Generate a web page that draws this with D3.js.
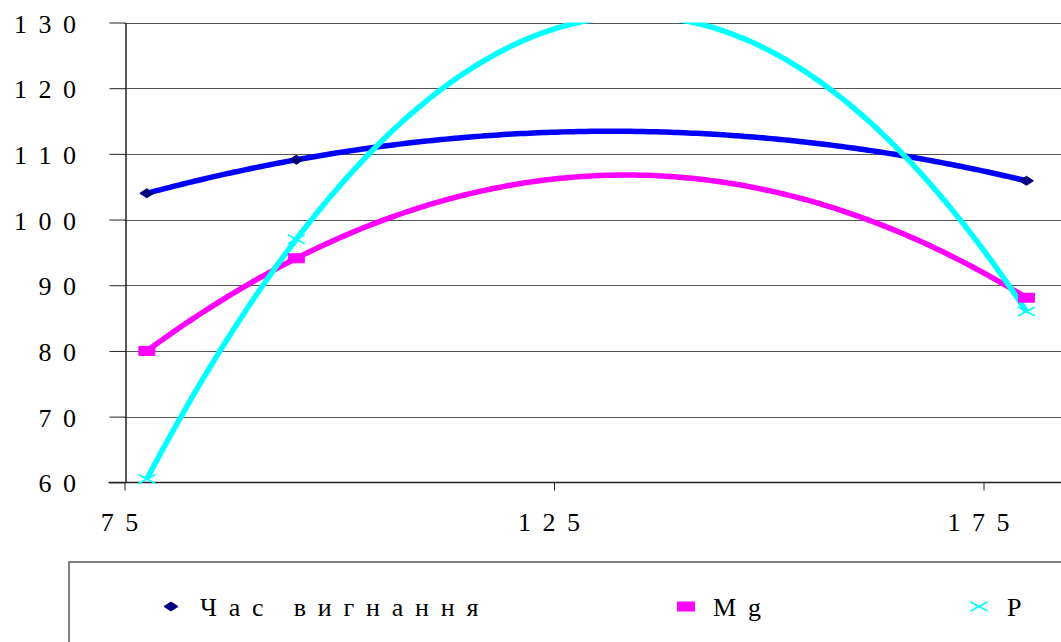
<!DOCTYPE html>
<html>
<head>
<meta charset="utf-8">
<script src="https://cdn.jsdelivr.net/npm/d3@7"></script>
<style>
  html, body { margin: 0; padding: 0; background: #fff; overflow: hidden; }
  svg { display: block; }
  text { font-family: "Liberation Serif", "Times New Roman", serif; font-size: 26px; fill: #000; }
</style>
</head>
<body>
<script>
// ---- data ----
const seriesNames = ["Час вигнання", "Mg", "P"];
const xValues = [77.6, 95, 180];
const chasVygnannia = [104, 109.1, 105.9];
const mgValues = [80, 94.1, 88.1];
const pValues = [60.5, 97, 86];
const yTicks = [60, 70, 80, 90, 100, 110, 120, 130];
const xTicks = [75, 125, 175];

const W = 1061, H = 642;
const svg = d3.select("body").append("svg").attr("width", W).attr("height", H);

const x = d3.scaleLinear().domain([75, 185]).range([124.5, 124.5 + 110 * 8.59]);
const y = d3.scaleLinear().domain([60, 130]).range([482.3, 22.5]);

const spaced = d => String(d).split("").join(" ");

// clip for plot area
svg.append("defs").append("clipPath").attr("id", "plot")
  .append("rect").attr("x", x(75)).attr("y", y(130)).attr("width", W - x(75)).attr("height", y(60) - y(130));

// gridlines
svg.append("g").selectAll("line").data(yTicks.filter(d => d > 60)).join("line")
  .attr("x1", x(75)).attr("x2", W)
  .attr("y1", d => Math.round(y(d)) + 0.5).attr("y2", d => Math.round(y(d)) + 0.5)
  .attr("stroke", "#555").attr("stroke-width", 1);

// y axis
const yAxis = d3.axisLeft(y).tickValues(yTicks).tickSizeInner(16).tickSizeOuter(0)
  .tickPadding(33.5).tickFormat(spaced);
const gy = svg.append("g").attr("transform", `translate(${Math.round(x(75)) + 0.5},0)`).call(yAxis);
gy.select(".domain").attr("stroke", "#222").attr("stroke-width", 1.5);
gy.selectAll(".tick line").attr("stroke", "#222");
gy.selectAll(".tick text").attr("dy", "0.37em").style("word-spacing", "5px").style("white-space", "pre");

// x axis
const xAxis = d3.axisBottom(x).tickValues(xTicks).tickSizeInner(8).tickSizeOuter(0)
  .tickPadding(22).tickFormat(spaced);
const gx = svg.append("g").attr("transform", `translate(0,${Math.round(y(60)) + 0.5})`).call(xAxis);
gx.select(".domain").attr("stroke", "#222").attr("stroke-width", 1.5).attr("d", `M${x(75) - 16},0H${W}`);
gx.selectAll(".tick line").attr("stroke", "#222");
gx.selectAll(".tick text").attr("dx", -5.5).style("word-spacing", "5px").style("white-space", "pre");

// polynomial (order 2) trendline by least squares
function quadFit(xs, ys) {
  const n = xs.length;
  let S = [0, 0, 0, 0, 0], T = [0, 0, 0];
  for (let i = 0; i < n; i++) {
    for (let k = 0; k < 5; k++) S[k] += Math.pow(xs[i], k);
    for (let k = 0; k < 3; k++) T[k] += ys[i] * Math.pow(xs[i], k);
  }
  const M = [[S[0], S[1], S[2], T[0]], [S[1], S[2], S[3], T[1]], [S[2], S[3], S[4], T[2]]];
  for (let c = 0; c < 3; c++) {
    let p = c;
    for (let r = c + 1; r < 3; r++) if (Math.abs(M[r][c]) > Math.abs(M[p][c])) p = r;
    [M[c], M[p]] = [M[p], M[c]];
    for (let r = 0; r < 3; r++) if (r !== c) {
      const f = M[r][c] / M[c][c];
      for (let k = c; k < 4; k++) M[r][k] -= f * M[c][k];
    }
  }
  const coef = [M[0][3] / M[0][0], M[1][3] / M[1][1], M[2][3] / M[2][2]];
  return xv => coef[0] + coef[1] * xv + coef[2] * xv * xv;
}

const series = [
  { name: seriesNames[0], values: chasVygnannia, line: "#0000FF", marker: "#000080", shape: "diamond" },
  { name: seriesNames[1], values: mgValues, line: "#FF00FF", marker: "#FF00FF", shape: "square" },
  { name: seriesNames[2], values: pValues, line: "#00FFFF", marker: "#00FFFF", shape: "cross" }
];

function markerPath(shape) {
  if (shape === "diamond") return "M-7,0L0,-4.5L7,0L0,4.5Z";
  if (shape === "square") return "M-8,-4.5H8V4.5H-8Z";
  return "M-8.5,-4.5L8.5,4.5M-8.5,4.5L8.5,-4.5";
}
function drawMarker(g, shape, color) {
  const p = g.append("path").attr("d", markerPath(shape));
  if (shape === "cross") p.attr("fill", "none").attr("stroke", color).attr("stroke-width", 1.8);
  else p.attr("fill", color).attr("stroke", color).attr("stroke-width", 1);
}

const plot = svg.append("g").attr("clip-path", "url(#plot)");
const lineGen = d3.line().x(d => x(d[0])).y(d => y(d[1]));
series.forEach(s => {
  const f = quadFit(xValues, s.values);
  const x0 = d3.min(xValues), x1 = d3.max(xValues);
  const samples = d3.range(0, 201).map(i => { const xv = x0 + (x1 - x0) * i / 200; return [xv, f(xv)]; });
  plot.append("path").datum(samples).attr("d", lineGen)
    .attr("fill", "none").attr("stroke", s.line).attr("stroke-width", 5.5).attr("stroke-linejoin", "round");
});
series.forEach(s => {
  xValues.forEach((xv, i) => {
    const g = svg.append("g").attr("transform", `translate(${x(xv)},${y(s.values[i])})`);
    drawMarker(g, s.shape, s.marker);
  });
});

// legend
svg.append("rect").attr("x", 69).attr("y", 562).attr("width", W).attr("height", 200)
  .attr("fill", "#fff").attr("stroke", "#808080").attr("stroke-width", 2);
const legendX = [171, 686, 979];
const legendTextX = [200, 713, 1007];
series.forEach((s, i) => {
  const g = svg.append("g").attr("transform", `translate(${legendX[i]},606.5)`);
  if (s.shape === "square") g.append("path").attr("d", "M-9,-5H9V5H-9Z").attr("fill", s.marker);
  else drawMarker(g, s.shape, s.marker);
  svg.append("text").attr("x", legendTextX[i]).attr("y", 616)
    .attr("letter-spacing", "11.8px").text(s.name);
});
</script>
</body>
</html>
